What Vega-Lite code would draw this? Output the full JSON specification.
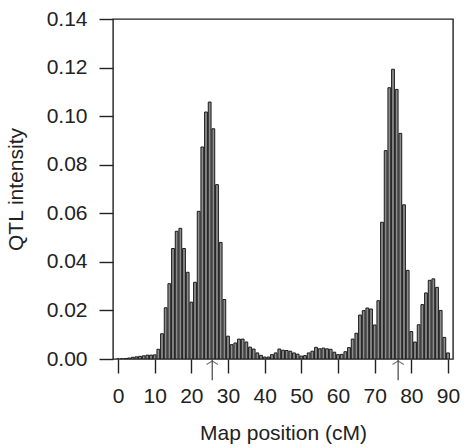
{
  "$schema": "https://vega.github.io/schema/vega-lite/v6.json",
  "autosize": "none",
  "width": 340,
  "height": 340,
  "padding": {"left": 113, "top": 19, "right": 14, "bottom": 89},
  "background": "white",
  "config": {
    "font": "Liberation Sans",
    "view": {"stroke": "#222222", "strokeWidth": 1.4},
    "axis": {
      "labelFont": "Liberation Sans",
      "titleFont": "Liberation Sans",
      "labelFontSize": 21,
      "titleFontSize": 21,
      "labelColor": "#222222",
      "titleColor": "#222222",
      "titleFontWeight": "normal",
      "tickColor": "#222222",
      "tickWidth": 1.4,
      "tickSize": 14,
      "domain": false,
      "grid": false
    }
  },
  "data": {
    "values": [
      {"pos": 0, "intensity": 0}, {"pos": 1, "intensity": 0.0001}, {"pos": 2, "intensity": 0.0002},
      {"pos": 3, "intensity": 0.0004}, {"pos": 4, "intensity": 0.0007}, {"pos": 5, "intensity": 0.0009},
      {"pos": 6, "intensity": 0.0011}, {"pos": 7, "intensity": 0.0013}, {"pos": 8, "intensity": 0.0016},
      {"pos": 9, "intensity": 0.0016}, {"pos": 10, "intensity": 0.0017}, {"pos": 11, "intensity": 0.004},
      {"pos": 12, "intensity": 0.0104}, {"pos": 13, "intensity": 0.0211}, {"pos": 14, "intensity": 0.031},
      {"pos": 15, "intensity": 0.0455}, {"pos": 16, "intensity": 0.0526}, {"pos": 17, "intensity": 0.0538},
      {"pos": 18, "intensity": 0.0455}, {"pos": 19, "intensity": 0.0357}, {"pos": 20, "intensity": 0.0234},
      {"pos": 21, "intensity": 0.0316}, {"pos": 22, "intensity": 0.0608}, {"pos": 23, "intensity": 0.0873},
      {"pos": 24, "intensity": 0.1017}, {"pos": 25, "intensity": 0.1058}, {"pos": 26, "intensity": 0.0948},
      {"pos": 27, "intensity": 0.0718}, {"pos": 28, "intensity": 0.048}, {"pos": 29, "intensity": 0.0245},
      {"pos": 30, "intensity": 0.0094}, {"pos": 31, "intensity": 0.0059}, {"pos": 32, "intensity": 0.0066},
      {"pos": 33, "intensity": 0.0082}, {"pos": 34, "intensity": 0.0082}, {"pos": 35, "intensity": 0.007},
      {"pos": 36, "intensity": 0.0049}, {"pos": 37, "intensity": 0.0041}, {"pos": 38, "intensity": 0.0025},
      {"pos": 39, "intensity": 0.0015}, {"pos": 40, "intensity": 0.0008}, {"pos": 41, "intensity": 0.0008},
      {"pos": 42, "intensity": 0.0018}, {"pos": 43, "intensity": 0.0025}, {"pos": 44, "intensity": 0.0041},
      {"pos": 45, "intensity": 0.0036}, {"pos": 46, "intensity": 0.0035}, {"pos": 47, "intensity": 0.0032},
      {"pos": 48, "intensity": 0.0025}, {"pos": 49, "intensity": 0.002}, {"pos": 50, "intensity": 0.0012},
      {"pos": 51, "intensity": 0.0014}, {"pos": 52, "intensity": 0.0025}, {"pos": 53, "intensity": 0.0032},
      {"pos": 54, "intensity": 0.0048}, {"pos": 55, "intensity": 0.0042}, {"pos": 56, "intensity": 0.0045},
      {"pos": 57, "intensity": 0.0042}, {"pos": 58, "intensity": 0.004}, {"pos": 59, "intensity": 0.0028},
      {"pos": 60, "intensity": 0.0018}, {"pos": 61, "intensity": 0.0019}, {"pos": 62, "intensity": 0.003},
      {"pos": 63, "intensity": 0.0047}, {"pos": 64, "intensity": 0.0082}, {"pos": 65, "intensity": 0.0106},
      {"pos": 66, "intensity": 0.0181}, {"pos": 67, "intensity": 0.0199}, {"pos": 68, "intensity": 0.021},
      {"pos": 69, "intensity": 0.0206}, {"pos": 70, "intensity": 0.014}, {"pos": 71, "intensity": 0.024},
      {"pos": 72, "intensity": 0.0563}, {"pos": 73, "intensity": 0.0858}, {"pos": 74, "intensity": 0.1117},
      {"pos": 75, "intensity": 0.1193}, {"pos": 76, "intensity": 0.111}, {"pos": 77, "intensity": 0.0929},
      {"pos": 78, "intensity": 0.0635}, {"pos": 79, "intensity": 0.0365}, {"pos": 80, "intensity": 0.0113},
      {"pos": 81, "intensity": 0.007}, {"pos": 82, "intensity": 0.0141}, {"pos": 83, "intensity": 0.0224},
      {"pos": 84, "intensity": 0.0272}, {"pos": 85, "intensity": 0.0324}, {"pos": 86, "intensity": 0.033},
      {"pos": 87, "intensity": 0.0295}, {"pos": 88, "intensity": 0.02}, {"pos": 89, "intensity": 0.0089},
      {"pos": 90, "intensity": 0.0025}
    ]
  },
  "encoding": {
    "x": {
      "field": "pos", "type": "quantitative",
      "scale": {"domain": [0, 90], "nice": false, "zero": false},
      "axis": {"values": [0, 10, 20, 30, 40, 50, 60, 70, 80, 90], "title": "Map position (cM)", "labelPadding": 12, "titlePadding": 16, "labelFlush": false, "labelOverlap": false, "labelBound": false}
    }
  },
  "layer": [
    {
      "mark": {"type": "bar", "width": 2.8, "fill": "#8c8c8c", "stroke": "#1a1a1a", "strokeWidth": 1, "clip": true},
      "encoding": {
        "y": {
          "field": "intensity", "type": "quantitative",
          "scale": {"domain": [0, 0.14], "nice": false},
          "axis": {"values": [0, 0.02, 0.04, 0.06, 0.08, 0.1, 0.12, 0.14], "format": ".2f", "title": "QTL intensity", "labelPadding": 12, "titlePadding": 20, "labelFlush": false, "labelOverlap": false}
        }
      }
    },
    {
      "data": {"values": [{"pos": 25.7}, {"pos": 76.4}]},
      "mark": {"type": "rule", "color": "#444444", "strokeWidth": 1.2, "clip": false},
      "encoding": {
        "y": {"datum": 0},
        "y2": {"datum": -0.0088}
      }
    },
    {
      "data": {"values": [{"pos": 25.7}, {"pos": 76.4}]},
      "mark": {"type": "point", "shape": "M-1,0.6L0,0L1,0.6", "size": 130, "filled": false, "stroke": "#444444", "strokeWidth": 1.2, "clip": false, "yOffset": 2},
      "encoding": {
        "y": {"datum": 0}
      }
    }
  ]
}
